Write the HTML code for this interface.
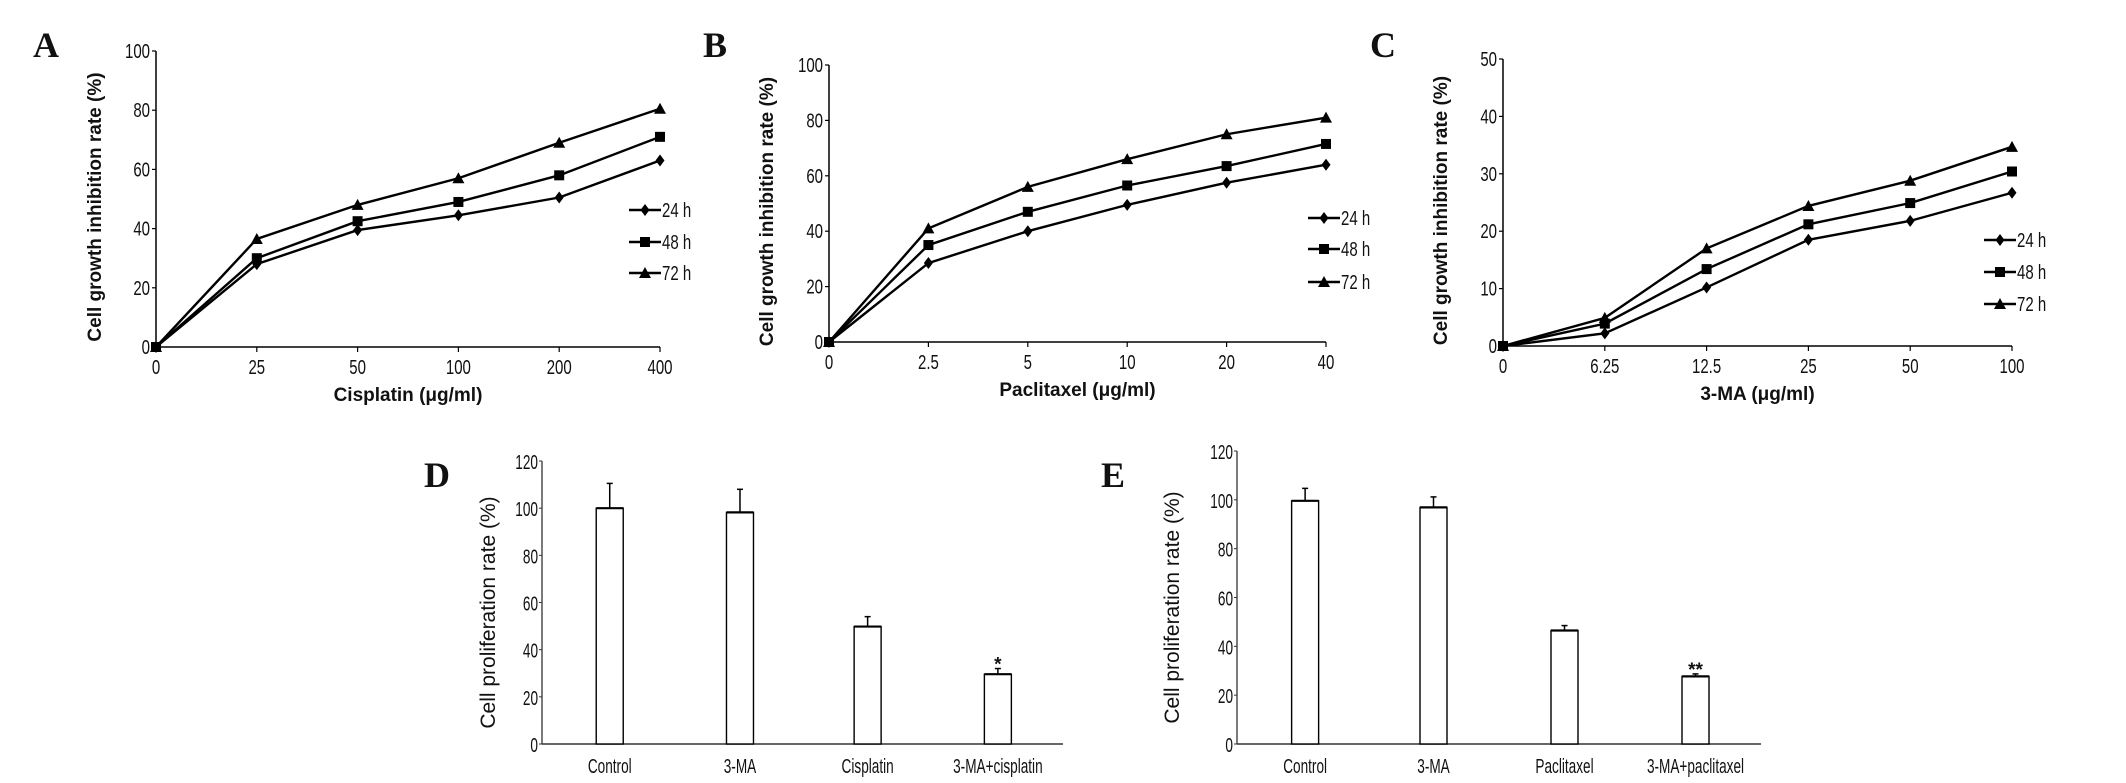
<!DOCTYPE html>
<html><head><meta charset="utf-8"><style>
html,body{margin:0;padding:0;background:#fff;}
svg{display:block;}
text{fill:#111;}
.tick{font-family:"Liberation Sans",sans-serif;font-size:20px;}
.title{font-family:"Liberation Sans",sans-serif;font-size:19px;font-weight:bold;}
.ylab2{font-family:"Liberation Sans",sans-serif;font-size:21px;}
.letter{font-family:"Liberation Serif",serif;font-size:36px;font-weight:bold;}
</style></head><body>
<svg id="fig" width="2126" height="783" viewBox="0 0 2126 783" xmlns="http://www.w3.org/2000/svg"></svg>
<script>
// ---- data ----
const aCats = ["0","25","50","100","200","400"];
const a24 = [0,28,39.5,44.5,50.5,63];
const a48 = [0,30,42.5,49,58,71];
const a72 = [0,36.5,48,57,69,80.5];
const aTicks = [0,20,40,60,80,100];

const bCats = ["0","2.5","5","10","20","40"];
const b24 = [0,28.5,40,49.5,57.5,64];
const b48 = [0,35,47,56.5,63.5,71.5];
const b72 = [0,41,56,66,75,81];
const bTicks = [0,20,40,60,80,100];

const cCats = ["0","6.25","12.5","25","50","100"];
const c24 = [0,2.2,10.2,18.5,21.8,26.7];
const c48 = [0,3.9,13.4,21.2,24.9,30.4];
const c72 = [0,4.9,17,24.4,28.8,34.7];
const cTicks = [0,10,20,30,40,50];

const dCats = ["Control","3-MA","Cisplatin","3-MA+cisplatin"];
const dVals = [100,98.2,49.8,29.6];
const dErr = [10.5,9.8,4.2,2.4];
const dSig = ["","","","*"];
const eCats = ["Control","3-MA","Paclitaxel","3-MA+paclitaxel"];
const eVals = [99.6,96.9,46.5,27.7];
const eErr = [5.1,4.3,2,1];
const eSig = ["","","","**"];
const barTicks = [0,20,40,60,80,100,120];
const seriesNames = ["24 h","48 h","72 h"];

const NS="http://www.w3.org/2000/svg";
const svg=document.getElementById('fig');
function mk(tag,attrs,parent){const e=document.createElementNS(NS,tag);for(const k in attrs)e.setAttribute(k,attrs[k]);(parent||svg).appendChild(e);return e;}
function ctext(x,y,str,cls,anchor,sx){
  const g=mk('g',{transform:`translate(${x},${y}) scale(${sx||0.75},1)`});
  const t=mk('text',{x:0,y:0,'text-anchor':anchor||'middle',class:cls},g);
  t.textContent=str;return g;
}
function letter(x,y,s){const t=mk('text',{x:x,y:y,class:'letter'});t.textContent=s;}

function marker(g,type,x,y){
  let m;
  if(type===0) m=mk('polygon',{points:`${x},${y-6} ${x+4.5},${y} ${x},${y+6} ${x-4.5},${y}`,fill:'#000'},g);
  else if(type===1) m=mk('rect',{x:x-5,y:y-5,width:10,height:10,fill:'#000'},g);
  else m=mk('polygon',{points:`${x},${y-6} ${x+6},${y+5} ${x-6},${y+5}`,fill:'#000'},g);
  
  
}

function lineChart(id,cfg){
  const g=mk('g',{});
  
  
  const {x0,x1,y0,y1,ticks,cats,series,xlab,ylabX,legX,legY}=cfg;
  const maxT=ticks[ticks.length-1];
  const sx=i=>x0+(x1-x0)*i/(cats.length-1);
  const sy=v=>y0-(y0-y1)*v/maxT;
  mk('line',{x1:x0,y1:y1,x2:x0,y2:y0,stroke:'#000','stroke-width':1.5},g);
  mk('line',{x1:x0,y1:y0,x2:x1,y2:y0,stroke:'#000','stroke-width':1.5},g);
  ticks.forEach(t=>{mk('line',{x1:x0-4,y1:sy(t),x2:x0,y2:sy(t),stroke:'#000','stroke-width':1.2},g);
    const l=ctext(x0-6,sy(t)+7,String(t),'tick','end');});
  cats.forEach((c,i)=>{mk('line',{x1:sx(i),y1:y0,x2:sx(i),y2:y0+5,stroke:'#000','stroke-width':1.2},g);
    const l=ctext(sx(i),y0+27,c,'tick','middle');});
  series.forEach((s,k)=>{
    const pts=s.map((v,i)=>sx(i)+','+sy(v)).join(' ');
    const p=mk('polyline',{points:pts,fill:'none',stroke:'#000','stroke-width':2.4},g);
    
    
    s.forEach((v,i)=>marker(g,k,sx(i),sy(v)));
    const ly=legY[k];
    const ll=mk('line',{x1:legX,y1:ly,x2:legX+32,y2:ly,stroke:'#000','stroke-width':2.4},g);
    
    
    marker(g,k,legX+16,ly);
    ctext(legX+33,ly+7,seriesNames[k],'tick','start');
  });
  const xt=mk('text',{x:(x0+x1)/2,y:y0+54,'text-anchor':'middle',class:'title'});
  xt.textContent=xlab;
  const yc=(y0+y1)/2+8;
  const yt=mk('text',{x:ylabX,y:yc,'text-anchor':'middle',class:'title',transform:`rotate(-90 ${ylabX} ${yc})`});
  yt.textContent='Cell growth inhibition rate (%)';
}

function barChart(id,cfg){
  const g=mk('g',{});
  
  
  const {x0,x1,y0,y1,cats,vals,errs,sig,centers,ylabX}=cfg;
  const maxT=barTicks[barTicks.length-1];
  const sy=v=>y0-(y0-y1)*v/maxT;
  mk('line',{x1:x0,y1:y1,x2:x0,y2:y0,stroke:'#333','stroke-width':1.3},g);
  mk('line',{x1:x0,y1:y0,x2:x1,y2:y0,stroke:'#333','stroke-width':1.5},g);
  barTicks.forEach(t=>{mk('line',{x1:x0-3,y1:sy(t),x2:x0,y2:sy(t),stroke:'#333','stroke-width':1},g);
    const l=ctext(x0-4,sy(t)+8,String(t),'tick','end',0.68);});
  const bw=27;
  cats.forEach((c,i)=>{
    const cx=x0+(x1-x0)*centers[i];
    const top=sy(vals[i]);
    const et=sy(vals[i]+errs[i]);
    mk('line',{x1:cx,y1:et,x2:cx,y2:top,stroke:'#000','stroke-width':1.5},g);
    mk('line',{x1:cx-3,y1:et,x2:cx+3,y2:et,stroke:'#000','stroke-width':1.5},g);
    const r=mk('rect',{x:cx-bw/2,y:top,width:bw,height:y0-top,fill:'#fff',stroke:'#000','stroke-width':1.4},g);
    
    
    mk('line',{x1:cx-bw/2,y1:top,x2:cx+bw/2,y2:top,stroke:'#000','stroke-width':2.2},g);
    if(sig[i]){const s=mk('text',{x:cx,y:et+2,'text-anchor':'middle',class:'title','font-size':'26'},g);
      s.textContent=sig[i];}
    const l=ctext(cx,y0+29,c,'tick','middle',0.68);
  });
  const yc=(y0+y1)/2+10;
  const yt=mk('text',{x:ylabX,y:yc,'text-anchor':'middle',class:'ylab2',transform:`rotate(-90 ${ylabX} ${yc})`});
  yt.textContent='Cell proliferation rate (%)';
}

letter(33,57,'A');letter(703,57,'B');letter(1370,57,'C');letter(424,487,'D');letter(1101,487,'E');

lineChart('a',{x0:156,x1:660,y0:347,y1:51,ticks:aTicks,cats:aCats,series:[a24,a48,a72],xlab:'Cisplatin (μg/ml)',ylabX:101,legX:629,legY:[210,242,273]});
lineChart('b',{x0:829,x1:1326,y0:342,y1:65,ticks:bTicks,cats:bCats,series:[b24,b48,b72],xlab:'Paclitaxel (μg/ml)',ylabX:773,legX:1308,legY:[218,249,282]});
lineChart('c',{x0:1503,x1:2012,y0:346,y1:59,ticks:cTicks,cats:cCats,series:[c24,c48,c72],xlab:'3-MA (μg/ml)',ylabX:1447,legX:1984,legY:[240,272,304]});
barChart('d',{x0:542,x1:1063,y0:744,y1:461,cats:dCats,vals:dVals,errs:dErr,sig:dSig,centers:[0.13,0.38,0.625,0.875],ylabX:495});
barChart('e',{x0:1237,x1:1761,y0:744,y1:451,cats:eCats,vals:eVals,errs:eErr,sig:eSig,centers:[0.13,0.375,0.625,0.875],ylabX:1179});
</script>
</body></html>
